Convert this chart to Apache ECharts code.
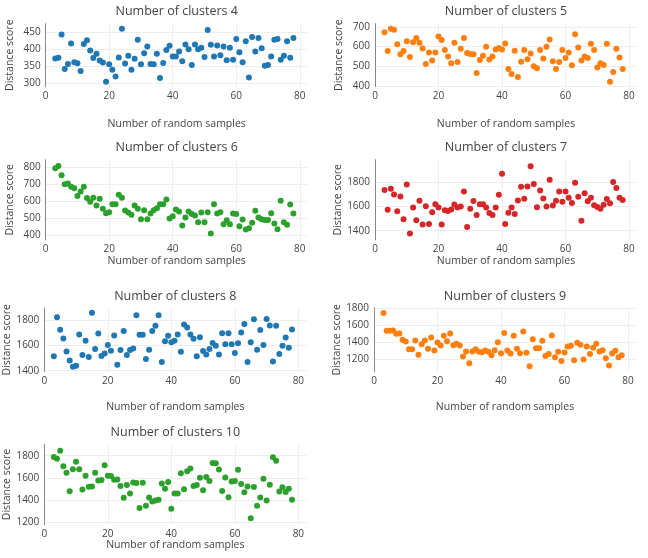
<!DOCTYPE html>
<html>
<head>
<meta charset="utf-8">
<script src="https://cdn.jsdelivr.net/npm/echarts@6/dist/echarts.min.js"></script>
<style>
  html, body { margin: 0; padding: 0; background: #fff; }
</style>
</head>
<body>
<div id="myChart" style="width: 648px; height: 558px;"></div>
<script>
// number of random samples (x), same for every panel
const samples = [];
for (let i = 3; i <= 78; i++) samples.push(i);

const clusters4 = [373, 375, 443, 342, 357, 417, 362, 359, 336, 415, 426, 396, 374, 387, 367, 361, 305, 356, 340, 320,
  376, 460, 358, 381, 340, 372, 428, 356, 388, 408, 357, 356, 387, 316, 360, 398, 410, 379, 379, 393,
  365, 414, 400, 354, 414, 400, 404, 377, 456, 413, 379, 411, 382, 408, 368, 404, 369, 430, 391, 362,
  423, 317, 436, 393, 433, 403, 352, 354, 379, 428, 430, 369, 381, 423, 375, 433];

const clusters5 = [672, 578, 690, 685, 612, 562, 578, 627, 548, 622, 643, 620, 591, 513, 570, 530, 570, 651, 633, 583,
  550, 517, 620, 523, 590, 643, 568, 563, 562, 467, 533, 554, 600, 535, 550, 586, 593, 586, 616, 488,
  462, 580, 447, 524, 583, 536, 566, 501, 491, 583, 541, 600, 636, 526, 488, 523, 583, 543, 570, 506,
  663, 596, 530, 550, 543, 615, 583, 495, 517, 508, 615, 424, 472, 590, 545, 488];

const clusters6 = [794, 806, 753, 700, 704, 684, 676, 631, 657, 684, 618, 596, 620, 575, 614, 555, 529, 535, 582, 582,
  637, 620, 545, 533, 520, 575, 555, 494, 547, 494, 527, 547, 559, 582, 582, 610, 498, 512, 551, 539,
  457, 504, 539, 524, 516, 476, 533, 476, 535, 410, 582, 527, 535, 465, 488, 465, 527, 524, 453, 492,
  433, 441, 473, 543, 504, 494, 490, 490, 529, 469, 435, 602, 476, 461, 580, 527];

const clusters7 = [1737, 1573, 1746, 1699, 1560, 1682, 1494, 1781, 1378, 1592, 1486, 1648, 1452, 1603, 1455, 1553, 1619, 1592, 1452, 1570,
  1562, 1576, 1616, 1592, 1600, 1724, 1430, 1581, 1646, 1529, 1619, 1619, 1592, 1546, 1529, 1592, 1697, 1871, 1455, 1548,
  1592, 1538, 1649, 1763, 1665, 1766, 1933, 1786, 1595, 1732, 1667, 1600, 1822, 1608, 1648, 1724, 1640, 1724, 1672, 1630,
  1797, 1680, 1483, 1710, 1643, 1672, 1611, 1597, 1581, 1614, 1662, 1627, 1803, 1752, 1672, 1653];

const clusters8 = [1515, 1821, 1723, 1653, 1552, 1480, 1432, 1440, 1685, 1523, 1637, 1509, 1856, 1571, 1693, 1517, 1536, 1603, 1557, 1677,
  1448, 1563, 1712, 1523, 1563, 1576, 1837, 1683, 1683, 1493, 1565, 1712, 1755, 1837, 1469, 1632, 1675, 1624, 1637, 1685,
  1549, 1765, 1741, 1685, 1651, 1515, 1664, 1555, 1528, 1571, 1619, 1597, 1528, 1696, 1608, 1696, 1608, 1539, 1616, 1701,
  1768, 1469, 1624, 1805, 1565, 1720, 1603, 1808, 1757, 1472, 1755, 1531, 1597, 1661, 1581, 1725];

const clusters9 = [1738, 1533, 1533, 1537, 1498, 1502, 1428, 1409, 1320, 1320, 1420, 1254, 1378, 1420, 1324, 1455, 1304, 1397, 1362, 1475,
  1413, 1502, 1366, 1382, 1362, 1234, 1292, 1157, 1292, 1320, 1289, 1285, 1304, 1289, 1250, 1308, 1401, 1273, 1506, 1304,
  1269, 1475, 1324, 1273, 1525, 1277, 1122, 1436, 1331, 1331, 1416, 1242, 1265, 1478, 1227, 1289, 1184, 1281, 1351, 1359,
  1192, 1393, 1370, 1200, 1351, 1265, 1335, 1382, 1292, 1308, 1215, 1130, 1269, 1300, 1227, 1250];

const clusters10 = [1788, 1773, 1845, 1704, 1645, 1478, 1678, 1746, 1678, 1493, 1618, 1519, 1522, 1645, 1576, 1579, 1713, 1618, 1615, 1582,
  1585, 1525, 1418, 1534, 1457, 1558, 1552, 1325, 1555, 1346, 1421, 1385, 1394, 1400, 1549, 1501, 1561, 1319, 1457, 1457,
  1642, 1495, 1660, 1684, 1525, 1534, 1600, 1487, 1606, 1570, 1734, 1731, 1675, 1481, 1603, 1424, 1567, 1570, 1672, 1543,
  1469, 1522, 1233, 1516, 1346, 1421, 1591, 1394, 1537, 1785, 1755, 1475, 1513, 1472, 1501, 1400];

const titles = ["Number of clusters 4", "Number of clusters 5", "Number of clusters 6", "Number of clusters 7",
  "Number of clusters 8", "Number of clusters 9", "Number of clusters 10"];
const allData = [clusters4, clusters5, clusters6, clusters7, clusters8, clusters9, clusters10];
const colors = ["#1f77b4", "#ff7f0e", "#2ca02c", "#d62728", "#1f77b4", "#ff7f0e", "#2ca02c"];

// panel layout: [left, top, width, height], y range, splitNumber, x-title gap
const panels = [
  { box: [45.7, 23.2, 262, 64], y: [289, 476], split: 4, gap: 31 },
  { box: [375, 23.2, 262, 64], y: [396, 718], split: 4, gap: 31 },
  { box: [45.7, 159.3, 262, 81], y: [370, 846], split: 4, gap: 10 },
  { box: [375, 159.3, 262, 81], y: [1321, 1990], split: 4, gap: 10 },
  { box: [44.3, 307.5, 262, 64.5], y: [1390, 1898], split: 3, gap: 30 },
  { box: [374, 307.5, 262, 64.5], y: [1055, 1803], split: 4, gap: 30 },
  { box: [44.3, 444, 262, 81], y: [1172, 1906], split: 4, gap: 11 }
];

const font = "'Open Sans', 'DejaVu Sans', sans-serif";
const txt = "#444";
const plain = function (v) { return String(v); };

let myChart = echarts.init(document.getElementById("myChart"));

let grid = [], xAxis = [], yAxis = [], series = [], title = [];
panels.forEach(function (p, i) {
  grid.push({ left: p.box[0], top: p.box[1], width: p.box[2], height: p.box[3] });
  title.push({
    text: titles[i],
    left: p.box[0] + p.box[2] / 2,
    top: p.box[1] - 18,
    textAlign: "center",
    padding: 0,
    textStyle: { fontFamily: font, fontSize: 12.5, fontWeight: "normal", color: txt }
  });
  xAxis.push({
    gridIndex: i,
    type: "value",
    min: 0,
    max: 82.5,
    interval: 20,
    name: "Number of random samples",
    nameLocation: "middle",
    nameGap: p.gap,
    nameTextStyle: { fontFamily: font, fontSize: 10.5, color: txt },
    axisLine: { show: false },
    axisTick: { show: false },
    axisLabel: { fontFamily: font, fontSize: 10, color: txt, margin: 4, showMaxLabel: false, formatter: plain },
    splitLine: { show: true, showMaxLine: false, lineStyle: { color: "#eee", width: 1 } }
  });
  yAxis.push({
    gridIndex: i,
    type: "value",
    min: p.y[0],
    max: p.y[1],
    splitNumber: p.split,
    name: "Distance score",
    nameLocation: "middle",
    nameGap: 30,
    nameTextStyle: { fontFamily: font, fontSize: 10.5, color: txt },
    axisLine: { show: false },
    axisTick: { show: false },
    axisLabel: { fontFamily: font, fontSize: 10, color: txt, margin: 5, showMinLabel: false, showMaxLabel: false, formatter: plain },
    splitLine: { show: true, showMinLine: false, showMaxLine: false, lineStyle: { color: "#eee", width: 1 } }
  });
  series.push({
    type: "scatter",
    xAxisIndex: i,
    yAxisIndex: i,
    symbolSize: 6,
    itemStyle: { color: colors[i], opacity: 1 },
    // zero line at x = 0 acts as the vertical axis line
    markLine: {
      silent: true,
      symbol: "none",
      label: { show: false },
      lineStyle: { color: "#888", width: 1, type: "solid" },
      data: [{ xAxis: 0 }]
    },
    data: samples.map(function (s, k) { return [s, allData[i][k]]; })
  });
});

myChart.setOption({
  animation: false,
  title: title,
  grid: grid,
  xAxis: xAxis,
  yAxis: yAxis,
  series: series
});
</script>
</body>
</html>
